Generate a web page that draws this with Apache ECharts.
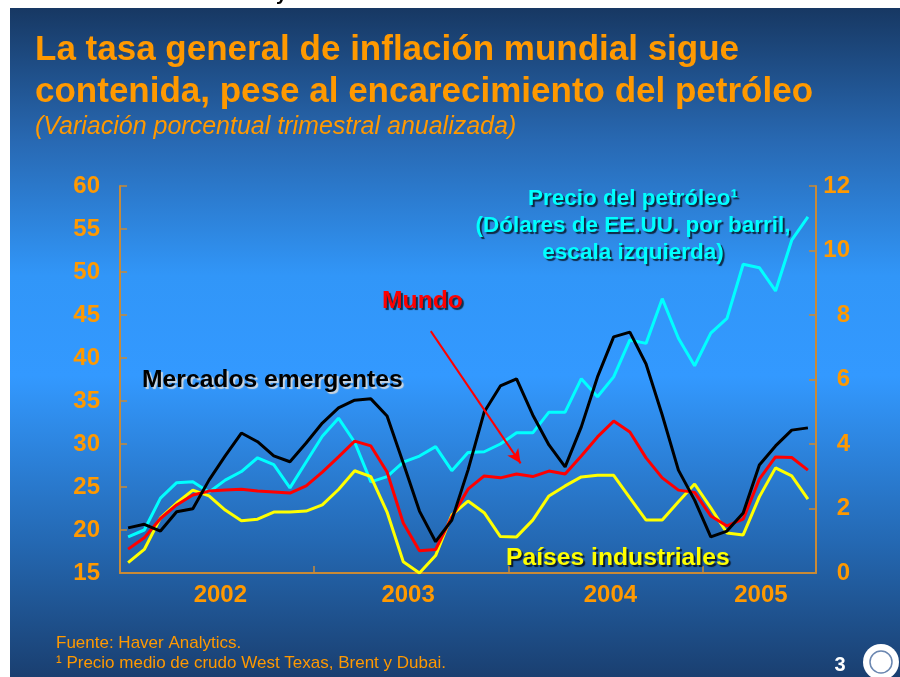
<!DOCTYPE html>
<html>
<head>
<meta charset="utf-8">
<script src="https://cdn.jsdelivr.net/npm/echarts@6/dist/echarts.min.js"></script>
<style>
  html, body { margin: 0; padding: 0; background: #fff; }
  #chart { width: 900px; height: 677px; }
</style>
</head>
<body>
<div id="chart"></div>
<script>
// monthly observations, Jan 2002 .. Jul 2005
const months = [];
for (let y = 2002; y <= 2005; y++) {
  for (let m = 1; m <= 12; m++) {
    if (months.length < 43) months.push(y + '-' + String(m).padStart(2, '0'));
  }
}
const years = ['2002', '2003', '2004', '2005'];

// oil price, US$ per barrel (left scale)
const oil = [19.2, 20.0, 23.7, 25.5, 25.6, 24.4, 25.8, 26.8, 28.4, 27.6, 24.9, 27.9,
  30.9, 33.0, 30.2, 25.6, 26.2, 27.9, 28.6, 29.7, 26.9, 29.0, 29.1, 30.0,
  31.3, 31.3, 33.7, 33.7, 37.6, 35.5, 37.8, 42.1, 41.7, 46.9, 42.3, 39.1,
  42.9, 44.6, 50.9, 50.5, 47.8, 53.7, 56.4];

// inflation, annualized % (right scale)
const emergentes = [1.40, 1.51, 1.30, 1.90, 1.99, 2.88, 3.63, 4.34, 4.07, 3.63, 3.45, 4.03,
  4.65, 5.12, 5.36, 5.40, 4.87, 3.41, 1.92, 0.97, 1.64, 3.19, 4.99, 5.80,
  6.02, 4.90, 3.97, 3.29, 4.53, 6.08, 7.32, 7.47, 6.48, 4.90, 3.19, 2.26,
  1.12, 1.30, 1.86, 3.35, 3.94, 4.43, 4.50];
const mundo = [0.74, 1.09, 1.69, 2.11, 2.42, 2.54, 2.57, 2.60, 2.54, 2.51, 2.48, 2.70,
  3.13, 3.60, 4.09, 3.94, 3.13, 1.55, 0.69, 0.73, 1.74, 2.60, 3.01, 2.95,
  3.07, 2.99, 3.16, 3.07, 3.63, 4.22, 4.71, 4.37, 3.57, 2.95, 2.57, 2.50,
  1.77, 1.46, 1.67, 2.91, 3.60, 3.58, 3.19];
const industriales = [0.32, 0.73, 1.71, 2.17, 2.57, 2.39, 1.95, 1.62, 1.67, 1.89, 1.89, 1.92,
  2.11, 2.59, 3.17, 2.99, 1.89, 0.35, 0.00, 0.54, 1.80, 2.23, 1.87, 1.13,
  1.12, 1.64, 2.39, 2.70, 2.98, 3.03, 3.03, 2.33, 1.64, 1.64, 2.21, 2.76,
  2.02, 1.24, 1.18, 2.36, 3.26, 3.01, 2.29];

const FONT = '"Liberation Sans", Arial, sans-serif';
const ORANGE = '#ff9900';
const AXIS = '#c98a36';

const toPoints = (arr) => arr.map((v, i) => [i + 0.5, v]);
const yearLabelAt = [6.2, 17.8, 30.3, 39.6];

const chart = echarts.init(document.getElementById('chart'));

const lineSeries = (name, values, color, yIdx) => ({
  name: name,
  type: 'line',
  yAxisIndex: yIdx,
  data: toPoints(values),
  showSymbol: false,
  symbol: 'none',
  lineStyle: { color: color, width: 3 },
  z: 3
});

const label = (text, x, y, color, size, shadow, align) => ({
  type: 'text',
  z: 50,
  style: {
    text: text, x: x, y: y,
    fill: color,
    font: 'bold ' + size + 'px ' + FONT,
    textAlign: align || 'left',
    textVerticalAlign: 'middle',
    textShadowColor: shadow,
    textShadowOffsetX: 2,
    textShadowOffsetY: 2,
    textShadowBlur: 1
  }
});

const option = {
  animation: false,
  backgroundColor: '#ffffff',
  grid: { left: 120, right: 84, top: 186, bottom: 104 },
  xAxis: {
    type: 'value',
    min: 0,
    max: 43,
    splitLine: { show: false },
    axisLine: { show: true, lineStyle: { color: AXIS, width: 2 } },
    axisTick: { show: true, inside: true, length: 7, customValues: [12, 24, 36], lineStyle: { color: AXIS, width: 1.5 } },
    axisLabel: {
      customValues: yearLabelAt,
      margin: 10,
      color: ORANGE,
      fontFamily: FONT,
      fontWeight: 'bold',
      fontSize: 24,
      textShadowColor: 'rgba(0,0,0,0.75)',
      textShadowOffsetX: 2,
      textShadowOffsetY: 2,
      formatter: (v) => {
        let best = 0;
        yearLabelAt.forEach((p, i) => { if (Math.abs(p - v) < Math.abs(yearLabelAt[best] - v)) best = i; });
        return years[best];
      }
    }
  },
  yAxis: [{
    type: 'value',
    position: 'left',
    min: 15,
    max: 60,
    interval: 5,
    splitLine: { show: false },
    axisLine: { show: true, lineStyle: { color: AXIS, width: 2 } },
    axisTick: { show: true, inside: true, length: 7, lineStyle: { color: AXIS, width: 1.5 } },
    axisLabel: {
      margin: 20,
      color: ORANGE,
      fontFamily: FONT,
      fontWeight: 'bold',
      fontSize: 24,
      textShadowColor: 'rgba(0,0,0,0.75)',
      textShadowOffsetX: 2,
      textShadowOffsetY: 2
    }
  }, {
    type: 'value',
    position: 'right',
    min: 0,
    max: 12,
    interval: 2,
    splitLine: { show: false },
    axisLine: { show: true, lineStyle: { color: AXIS, width: 2 } },
    axisTick: { show: true, inside: true, length: 7, lineStyle: { color: AXIS, width: 1.5 } },
    axisLabel: {
      margin: 34,
      align: 'right',
      color: ORANGE,
      fontFamily: FONT,
      fontWeight: 'bold',
      fontSize: 24,
      textShadowColor: 'rgba(0,0,0,0.75)',
      textShadowOffsetX: 2,
      textShadowOffsetY: 2
    }
  }],
  series: [
    lineSeries('Precio del petróleo', oil, '#00ffff', 0),
    lineSeries('Países industriales', industriales, '#ffff00', 1),
    Object.assign(lineSeries('Mundo', mundo, '#ff0000', 1), {
      markLine: {
        silent: true,
        symbol: ['none', 'arrow'],
        symbolSize: [10, 14],
        label: { show: false },
        lineStyle: { color: '#ff0000', width: 2, type: 'solid' },
        data: [[{ coord: [19.2, 7.5] }, { coord: [24.75, 3.4] }]]
      }
    }),
    lineSeries('Mercados emergentes', emergentes, '#000000', 1)
  ],
  graphic: [
    {
      type: 'rect', z: -100, silent: true,
      shape: { x: 10, y: 8, width: 890, height: 669 },
      style: {
        fill: new echarts.graphic.LinearGradient(0, 0, 0, 1, [
          { offset: 0, color: '#173863' },
          { offset: 0.2, color: '#2869b3' },
          { offset: 0.4, color: '#3196f8' },
          { offset: 0.55, color: '#3399ff' },
          { offset: 0.8, color: '#2468b2' },
          { offset: 1, color: '#1a3f70' }
        ])
      }
    },
    { type: 'text', z: 50, style: { text: 'y', x: 276, y: -16, fill: '#000', font: 'bold 20px ' + FONT } },
    { type: 'text', z: 50, style: { text: 'La tasa general de inflación mundial sigue', x: 35, y: 50, fill: ORANGE, font: 'bold 35px ' + FONT, textVerticalAlign: 'middle' } },
    { type: 'text', z: 50, style: { text: 'contenida, pese al encarecimiento del petróleo', x: 35, y: 92, fill: ORANGE, font: 'bold 35px ' + FONT, textVerticalAlign: 'middle' } },
    { type: 'text', z: 50, style: { text: '(Variación porcentual trimestral anualizada)', x: 35, y: 127, fill: ORANGE, font: 'italic 25px ' + FONT, textVerticalAlign: 'middle' } },
    label('Precio del petróleo¹', 633, 199, '#00ffff', 22.5, 'rgba(0,0,0,0.7)', 'center'),
    label('(Dólares de EE.UU. por barril,', 633, 226, '#00ffff', 22.5, 'rgba(0,0,0,0.7)', 'center'),
    label('escala izquierda)', 633, 253, '#00ffff', 22.5, 'rgba(0,0,0,0.7)', 'center'),
    label('Mundo', 382, 301, '#ff0000', 24.7, 'rgba(0,0,0,0.7)'),
    label('Mercados emergentes', 142, 380, '#000000', 24.7, 'rgba(220,220,220,0.9)'),
    label('Países industriales', 506, 558, '#ffff00', 24.7, 'rgba(0,0,0,0.75)'),
    { type: 'text', z: 50, style: { text: 'Fuente: Haver Analytics.', x: 56, y: 643, fill: ORANGE, font: '17px ' + FONT, textVerticalAlign: 'middle' } },
    { type: 'text', z: 50, style: { text: '¹ Precio medio de crudo West Texas, Brent y Dubai.', x: 56, y: 663, fill: ORANGE, font: '17px ' + FONT, textVerticalAlign: 'middle' } },
    { type: 'text', z: 50, style: { text: '3', x: 840, y: 665, fill: '#ffffff', font: 'bold 20px ' + FONT, textAlign: 'center', textVerticalAlign: 'middle' } },
    { type: 'circle', z: 50, shape: { cx: 881, cy: 662, r: 18 }, style: { fill: '#ffffff' } },
    { type: 'circle', z: 51, shape: { cx: 881, cy: 662, r: 11 }, style: { fill: 'none', stroke: '#6a86b0', lineWidth: 1.5 } }
  ]
};

chart.setOption(option);
</script>
</body>
</html>
